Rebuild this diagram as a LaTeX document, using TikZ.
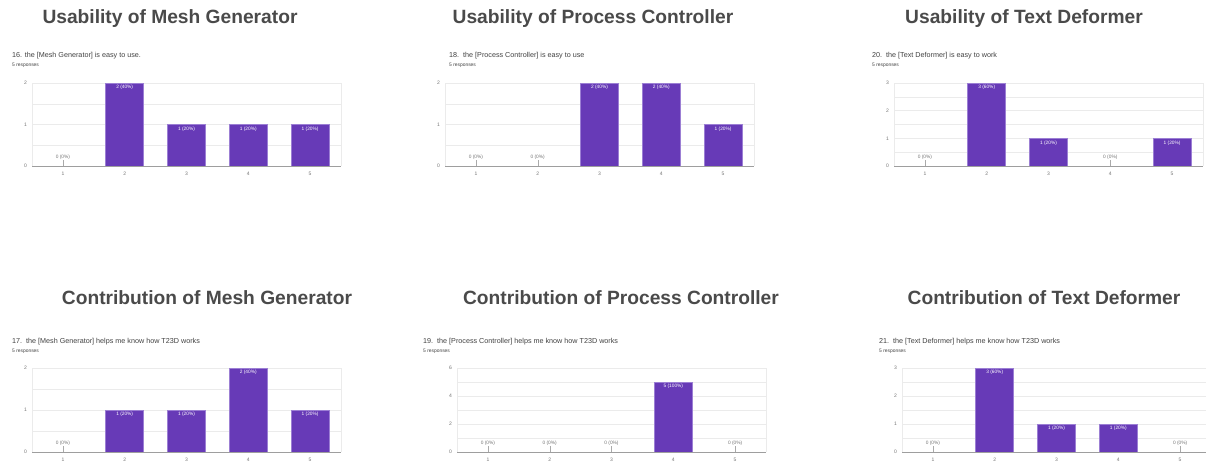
\documentclass[tikz,border=0pt]{standalone}
\usepackage{fontspec}
\setmainfont{Liberation Sans}

\definecolor{titlegray}{HTML}{4A4A4A}
\definecolor{textgray}{HTML}{424242}
\definecolor{axisgray}{HTML}{757575}
\definecolor{gridgray}{HTML}{EBEBEB}
\definecolor{basegray}{HTML}{9E9E9E}
\definecolor{barfill}{HTML}{673AB7}
\definecolor{barline}{HTML}{9C7FD4}
\definecolor{tickgray}{HTML}{AAAAAA}

\tikzset{
  charttitle/.style={font=\fontsize{19.2}{20}\selectfont\bfseries, text=titlegray, inner sep=0, anchor=base},
  question/.style={font=\fontsize{7.2}{8}\selectfont, text=textgray, anchor=base west, inner sep=0},
  responses/.style={font=\fontsize{4.9}{5}\selectfont, text=textgray, anchor=base west, inner sep=0},
  gridline/.style={draw=gridgray, line width=0.5pt},
  axisline/.style={draw=basegray, line width=0.9pt},
  ticklabel/.style={font=\fontsize{5}{5}\selectfont, text=axisgray, inner sep=0},
  bartag/.style={font=\fontsize{4.8}{5}\selectfont, text=white, inner sep=0},
  zerotag/.style={font=\fontsize{4.8}{5}\selectfont, text=axisgray, inner sep=0},
  zerotick/.style={draw=tickgray, line width=0.4pt},
  surveybar/.style={fill=barfill, draw=barline, line width=0.6pt},
}

% Column chart of five answers.
% #1 name prefix, #2 plot left, #3 plot top, #4 baseline, #5 axis maximum,
% #6 number of grid intervals, #7 axis labels, #8 count/percent pairs
\newcommand{\surveychart}[8]{%
  \begin{scope}[shift={(#2,0)}]
    \foreach \k in {0,...,#6}
      \draw[gridline] (0,{#4-\k*(#4-#3)/#6}) -- (309,{#4-\k*(#4-#3)/#6});
    \draw[gridline] (0,#3) -- (0,#4) (309,#3) -- (309,#4);
    \foreach \t in {#7}
      \node[ticklabel, anchor=east] (#1-y\t) at (-5,{#4-\t*(#4-#3)/#5}) {\t};
    \foreach \v/\p [count=\i] in {#8} {
      \pgfmathsetmacro\cx{30.9+(\i-1)*61.8}
      \node[ticklabel] (#1-x\i) at (\cx,{#4+7.5}) {\i};
      \ifnum\v=0
        \node[zerotag] (#1-tag\i) at (\cx,{#4-8.5}) {0 (0\%)};
        \coordinate (#1-foot\i) at (\cx,#4);
        \draw[zerotick] ([yshift=-0.5pt]#1-tag\i.south) -- (#1-foot\i);
      \else
        \draw[surveybar] ({\cx-19},#4) rectangle ({\cx+19},{#4-\v*(#4-#3)/#5});
        \node[bartag] (#1-tag\i) at (\cx,{#4-\v*(#4-#3)/#5+4.5}) {\v\ (\p\%)};
      \fi
    }
    \draw[axisline] (0,#4) -- (309,#4);
  \end{scope}}

\begin{document}
\begin{tikzpicture}[x=1pt,y=-1pt]
  \fill[white] (0,0) rectangle (1206,464);
  \useasboundingbox (0,0) rectangle (1206,464);

  % upper row: usability
  \node[charttitle] (t1) at (170,23) {Usability of Mesh Generator};
  \node[charttitle] (t2) at (593,23) {Usability of Process Controller};
  \node[charttitle] (t3) at (1024,23) {Usability of Text Deformer};

  \node[question] (q1) at (12,57) {16. the [Mesh Generator] is easy to use.};
  \node[responses] (r1) at (12,66) {5 responses};
  \node[question] (q2) at (449,57) {18.\ \ the [Process Controller] is easy to use};
  \node[responses] (r2) at (449,66) {5 responses};
  \node[question] (q3) at (872,57) {20.\ \ the [Text Deformer] is easy to work};
  \node[responses] (r3) at (872,66) {5 responses};

  \surveychart{c1}{32}{83}{166}{2}{4}{0,1,2}{0/0,2/40,1/20,1/20,1/20}
  \surveychart{c2}{445}{83}{166}{2}{4}{0,1,2}{0/0,0/0,2/40,2/40,1/20}
  \surveychart{c3}{894}{83}{166}{3}{6}{0,1,2,3}{0/0,3/60,1/20,0/0,1/20}

  % lower row: contribution
  \node[charttitle] (t4) at (207,304) {Contribution of Mesh Generator};
  \node[charttitle] (t5) at (621,304) {Contribution of Process Controller};
  \node[charttitle] (t6) at (1044,304) {Contribution of Text Deformer};

  \node[question] (q4) at (12,343) {17.\ \ the [Mesh Generator] helps me know how T23D works};
  \node[responses] (r4) at (12,352) {5 responses};
  \node[question] (q5) at (423,343) {19.\ \ the [Process Controller] helps me know how T23D works};
  \node[responses] (r5) at (423,352) {5 responses};
  \node[question] (q6) at (879,343) {21.\ \ the [Text Deformer] helps me know how T23D works};
  \node[responses] (r6) at (879,352) {5 responses};

  \surveychart{c4}{32}{368}{452}{2}{4}{0,1,2}{0/0,1/20,1/20,2/40,1/20}
  \surveychart{c5}{457}{368}{452}{6}{6}{0,2,4,6}{0/0,0/0,0/0,5/100,0/0}
  \surveychart{c6}{902}{368}{452}{3}{6}{0,1,2,3}{0/0,3/60,1/20,1/20,0/0}
\end{tikzpicture}
\end{document}
